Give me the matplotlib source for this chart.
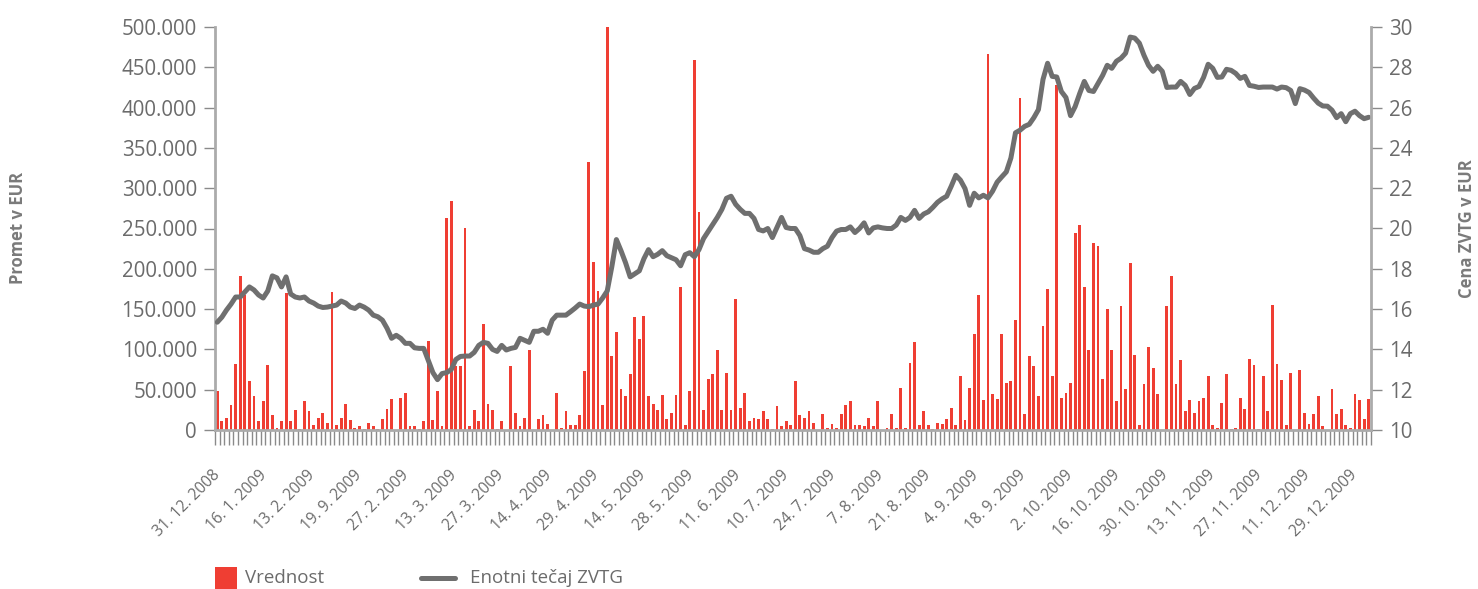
import numpy as np
import matplotlib.pyplot as plt
from matplotlib.patches import Rectangle
from matplotlib.lines import Line2D
from matplotlib.ticker import FuncFormatter

plt.rcParams['font.family'] = ['Open Sans', 'DejaVu Sans']

# dnevni promet (v tisoc EUR), odcitano z grafa
vrednost_k = [
    48, 11, 15, 31, 82, 191, 167, 61, 42, 11,
    36, 81, 19, 2, 11, 170, 11, 25, 1, 36,
    23, 6, 15, 21, 9, 171, 6, 15, 32, 12,
    2.5, 5, 1, 9, 5, 1, 14, 26, 38, 0,
    40, 46, 5, 5, 1, 11, 110, 12, 48, 5,
    263, 284, 79, 79, 251, 5, 25, 11, 131, 32,
    25, 1, 11, 0, 79, 21, 5, 15, 99, 0,
    14, 19, 7, 0, 46, 2, 24, 6, 6, 19,
    73, 332, 208, 173, 31, 500, 92, 122, 51, 42,
    69, 140, 113, 142, 42, 32, 25, 43, 14, 21,
    43, 178, 6, 48, 459, 270, 25, 63, 69, 99,
    25, 71, 25, 162, 27, 46, 11, 15, 14, 24,
    14, 1, 30, 5, 11, 6, 61, 19, 15, 23,
    9, 0, 20, 2.5, 7, 2.5, 20, 31, 36, 6,
    6, 5, 15, 5, 36, 0, 2.5, 20, 2.5, 52,
    2.5, 83, 109, 6, 23, 6, 1, 9, 7.5, 14,
    27, 6, 67, 12, 52, 119, 167, 37, 466, 45,
    38, 119, 58, 61, 136, 412, 20, 92, 79, 42,
    129, 175, 67, 428, 40, 46, 58, 244, 254, 178,
    99, 232, 228, 63, 150, 99, 36, 154, 51, 207,
    93, 6, 57, 103, 77, 45, 0, 154, 191, 57,
    87, 23, 37, 21, 36, 40, 67, 6, 2.5, 34,
    69, 1, 2.5, 40, 26, 88, 81, 1, 67, 23,
    155, 82, 62, 6, 71, 0, 74, 21, 7.5, 20,
    42, 5, 0, 51, 20, 26, 6, 2.5, 45, 37,
    14, 38,
]

# enotni tecaj ZVTG (EUR)
tecaj = [
    15.35, 15.6, 15.95, 16.25, 16.6, 16.6, 16.85, 17.1, 16.95, 16.7,
    16.55, 16.9, 17.65, 17.55, 17.1, 17.6, 16.75, 16.6, 16.55, 16.6,
    16.4, 16.3, 16.15, 16.08, 16.1, 16.15, 16.2, 16.4, 16.3, 16.1,
    16.03, 16.2, 16.1, 15.95, 15.7, 15.62, 15.45, 15.05, 14.55, 14.7,
    14.55, 14.3, 14.3, 14.08, 14.05, 14.05, 13.45, 12.85, 12.5, 12.8,
    12.85, 13.0, 13.5, 13.65, 13.67, 13.67, 13.85, 14.2, 14.35, 14.3,
    14.0, 13.9, 14.2, 13.97, 14.05, 14.1, 14.55, 14.45, 14.35, 14.9,
    14.9, 15.0, 14.8, 15.45, 15.7, 15.7, 15.7, 15.87, 16.05, 16.25,
    16.15, 16.12, 16.2, 16.25, 16.55, 16.9, 18.1, 19.45, 18.9, 18.3,
    17.6, 17.75, 17.9, 18.5, 18.95, 18.6, 18.72, 18.9, 18.65, 18.55,
    18.45, 18.15, 18.7, 18.8, 18.6, 18.95, 19.5, 19.85, 20.2, 20.55,
    20.95, 21.5, 21.6, 21.2, 20.95, 20.75, 20.75, 20.5, 19.95, 19.88,
    20.0, 19.55, 20.05, 20.55, 20.05, 20.0, 20.0, 19.65, 19.0, 18.93,
    18.82, 18.82, 19.0, 19.12, 19.55, 19.87, 19.95, 19.95, 20.08, 19.8,
    20.0, 20.28, 19.78, 20.03, 20.08, 20.03, 20.0, 20.0, 20.17, 20.55,
    20.4, 20.55, 20.9, 20.5, 20.72, 20.83, 21.05, 21.3, 21.47, 21.6,
    22.1, 22.64, 22.4, 21.98, 21.15, 21.75, 21.52, 21.65, 21.52, 21.85,
    22.3, 22.56, 22.81, 23.5, 24.75, 24.88, 25.07, 25.17, 25.5, 25.9,
    27.4, 28.2, 27.55, 27.52, 26.8, 26.5, 25.6, 26.05, 26.7, 27.3,
    26.85, 26.8, 27.2, 27.6, 28.1, 27.95, 28.3, 28.45, 28.7, 29.5,
    29.45, 29.2, 28.6, 28.1, 27.8, 28.05, 27.8, 27.0, 27.02, 27.02,
    27.3, 27.1, 26.65, 26.95, 27.05, 27.5, 28.15, 27.95, 27.5, 27.52,
    27.9, 27.85, 27.7, 27.45, 27.55, 27.1, 27.06, 27.0, 27.02, 27.02,
    27.02, 26.92, 27.02, 26.99, 26.85, 26.2, 26.94, 26.87, 26.75, 26.47,
    26.22, 26.08, 26.07, 25.87, 25.5, 25.7, 25.3, 25.7, 25.82, 25.6,
    25.45, 25.52,
]

datumi = [
    '31. 12. 2008', '16. 1. 2009', '13. 2. 2009', '19. 9. 2009', '27. 2. 2009',
    '13. 3. 2009', '27. 3. 2009', '14. 4. 2009', '29. 4. 2009', '14. 5. 2009',
    '28. 5. 2009', '11. 6. 2009', '10. 7. 2009', '24. 7. 2009', '7. 8. 2009',
    '21. 8. 2009', '4. 9. 2009', '18. 9. 2009', '2. 10. 2009', '16. 10. 2009',
    '30. 10. 2009', '13. 11. 2009', '27. 11. 2009', '11. 12. 2009', '29. 12. 2009',
]

RED = '#EF3E33'
GREY = '#6f6f6f'
TXT = '#6b6b6b'
SPINE = '#ababab'

vrednost = np.array(vrednost_k) * 1000
x = np.arange(len(vrednost))

W, H = 1478, 589
fig = plt.figure(figsize=(W / 100, H / 100), dpi=100)
ax = fig.add_axes([215 / W, 1 - 430 / H, (1371 - 215) / W, (430 - 27) / H])
ax2 = ax.twinx()

ax.bar(x, vrednost, width=0.62, color=RED, zorder=2)
ax2.plot(x, tecaj, color=GREY, lw=3.6, solid_joinstyle='round', solid_capstyle='round')

ax.set_xlim(-0.5, len(x) - 0.5)
ax.set_ylim(0, 500000)
ax2.set_ylim(10, 30)

# levi y
ax.set_yticks(np.arange(0, 500001, 50000))
ax.yaxis.set_major_formatter(FuncFormatter(lambda v, p: f'{int(v):,}'.replace(',', '.')))
ax.tick_params(axis='y', direction='out', length=8, width=1, color='#8a8a8a',
               labelcolor=TXT, labelsize=14.8, pad=5)
ax.set_ylabel('Promet v EUR', fontsize=12, fontweight='bold', color='#7a7a7a')
ax.yaxis.set_label_coords(-0.163, 0.5)

# desni y
ax2.set_yticks(np.arange(10, 31, 2))
ax2.tick_params(axis='y', direction='out', length=8, width=1, color='#8a8a8a',
                labelcolor=TXT, labelsize=14.8, pad=5)
ax2.set_ylabel('Cena ZVTG v EUR', fontsize=12, fontweight='bold', color='#7a7a7a')
ax2.yaxis.set_label_coords(1.0755, 0.5)

# x os: crtice med kategorijami, oznake datumov
ax.set_xticks(np.arange(-0.5, len(x), 1), minor=True)
ax.set_xticks(np.linspace(0, 248, len(datumi)))
ax.set_xticklabels(datumi, rotation=45, ha='right', va='center', rotation_mode='anchor')
ax.tick_params(axis='x', which='major', length=0, labelsize=11.2, labelcolor=TXT, pad=31)
ax.tick_params(axis='x', which='minor', length=11, width=1, color='#8a8a8a')

for a in (ax, ax2):
    a.spines['top'].set_visible(False)
ax.spines['right'].set_visible(False)
ax2.spines['left'].set_visible(False)
ax2.spines['bottom'].set_visible(False)
ax.spines['left'].set_color(SPINE)
ax.spines['left'].set_linewidth(2)
ax.spines['bottom'].set_color(SPINE)
ax.spines['bottom'].set_linewidth(2)
ax2.spines['right'].set_color(SPINE)
ax2.spines['right'].set_linewidth(2)

# legenda spodaj
fig.add_artist(Rectangle((215 / W, 0), 22 / W, 22 / H, transform=fig.transFigure,
                         color=RED, lw=0))
fig.text(245 / W, 1 - 578 / H, 'Vrednost', fontsize=13.5, color=TXT, va='center')
fig.add_artist(Line2D([421 / W, 455 / W], [1 - 578 / H, 1 - 578 / H], transform=fig.transFigure,
                      color=GREY, lw=3.6, solid_capstyle='round'))
fig.text(470 / W, 1 - 578 / H, 'Enotni tečaj ZVTG', fontsize=13.5, color=TXT, va='center')

fig.savefig('out.png', dpi=100)
